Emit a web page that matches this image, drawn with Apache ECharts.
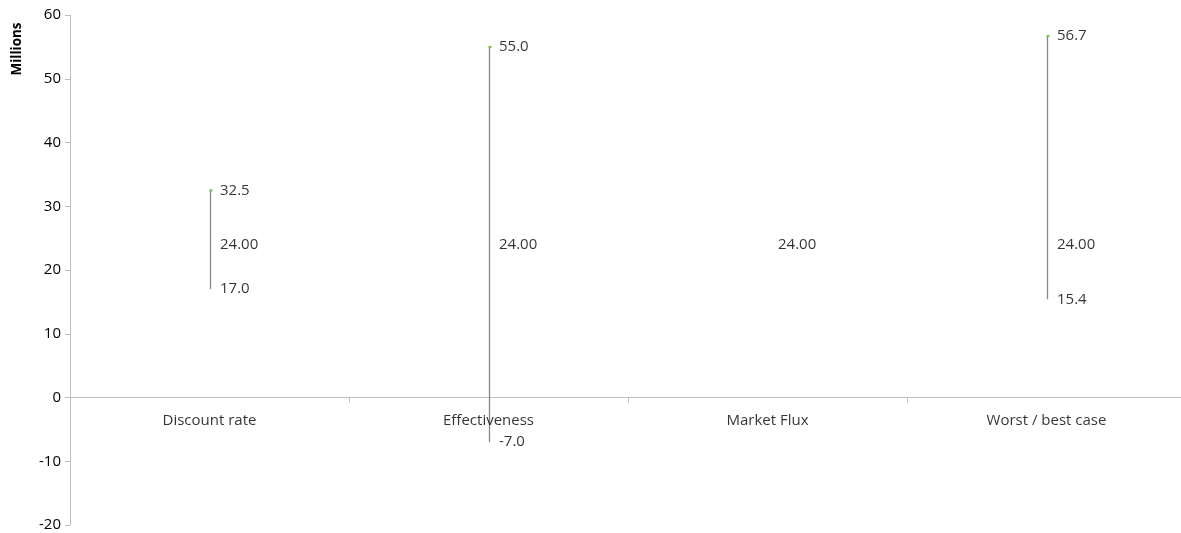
<!DOCTYPE html>
<html>
<head>
<meta charset="utf-8">
<script src="https://cdn.jsdelivr.net/npm/echarts@6/dist/echarts.min.js"></script>
<style>html,body{margin:0;padding:0;background:#fff}#c{width:1181px;height:533px}</style>
</head>
<body>
<div id="c"></div>
<script>
var categories = ['Discount rate', 'Effectiveness', 'Market Flux', 'Worst / best case'];
var lows = [17.0, -7.0, null, 15.4];
var highs = [32.5, 55.0, null, 56.7];
var mids = [24.00, 24.00, 24.00, 24.00];
var yTicks = { min: -20, max: 60, interval: 10 };
var axisTitle = 'Millions';

var FONT = '"Open Sans", sans-serif';
var chart = echarts.init(document.getElementById('c'), null, { renderer: 'canvas' });

function labelSeries(name, values, digits) {
  return {
    type: 'scatter', name: name,
    data: values.map(function (v, i) { return v == null ? [i, null] : [i, v]; }),
    symbolSize: 1,
    itemStyle: { color: 'rgba(0,0,0,0)' },
    label: {
      show: true, position: 'right', distance: 10,
      fontFamily: FONT, fontSize: 15, color: '#000',
      formatter: function (p) { return p.value[1] == null ? '' : p.value[1].toFixed(digits); }
    },
    emphasis: { disabled: true },
    silent: true, z: 5
  };
}

var option = {
  animation: false,
  grid: { left: 70, top: 15, width: 1116, height: 510, containLabel: false, outerBoundsMode: 'none' },
  graphic: [{
    type: 'text', x: 17, y: 49, rotation: Math.PI / 2,
    style: { text: axisTitle, fontFamily: FONT, fontSize: 13.5, fontWeight: 'bold', fill: '#000', align: 'center', verticalAlign: 'middle' }
  }],
  xAxis: {
    type: 'category', data: categories, boundaryGap: true,
    axisLine: { onZero: true, lineStyle: { color: '#bfbfbf', width: 1 } },
    axisTick: { show: true, alignWithLabel: false, length: 5, lineStyle: { color: '#bfbfbf' } },
    axisLabel: { show: false },
    splitLine: { show: false }
  },
  yAxis: {
    type: 'value', min: yTicks.min, max: yTicks.max, interval: yTicks.interval,
    axisLine: { show: true, lineStyle: { color: '#bfbfbf', width: 1 } },
    axisTick: { show: true, length: 5, lineStyle: { color: '#bfbfbf' } },
    axisLabel: { fontFamily: FONT, fontSize: 15, color: '#000', margin: 9 },
    splitLine: { show: false }
  },
  series: [
    {
      type: 'custom', name: 'range',
      data: categories.map(function (c, i) { return [i, lows[i], highs[i]]; }),
      renderItem: function (params, api) {
        var lo = api.value(1), hi = api.value(2);
        if (lo == null || hi == null || isNaN(lo) || isNaN(hi)) return;
        var p1 = api.coord([api.value(0), lo]);
        var p2 = api.coord([api.value(0), hi]);
        var x = Math.round(p1[0]) + 0.5;
        return {
          type: 'group',
          children: [
            { type: 'line', shape: { x1: x, y1: p1[1], x2: x, y2: p2[1] }, style: { stroke: '#888888', lineWidth: 1.3 } },
            { type: 'rect', shape: { x: x - 1, y: p2[1] - 1, width: 3, height: 2 }, style: { fill: '#7cc142' } }
          ]
        };
      },
      silent: true, z: 3
    },
    {
      type: 'scatter', name: 'categoryLabels',
      data: categories.map(function (c, i) { return [i, 0]; }),
      symbolSize: 1,
      itemStyle: { color: 'rgba(0,0,0,0)' },
      label: {
        show: true, position: 'bottom', distance: 15,
        fontFamily: FONT, fontSize: 15, color: '#000',
        formatter: function (p) { return categories[p.dataIndex]; }
      },
      emphasis: { disabled: true },
      silent: true, z: 4
    },
    labelSeries('high', highs, 1),
    labelSeries('mid', mids, 2),
    labelSeries('low', lows, 1)
  ]
};
chart.setOption(option);
</script>
</body>
</html>
